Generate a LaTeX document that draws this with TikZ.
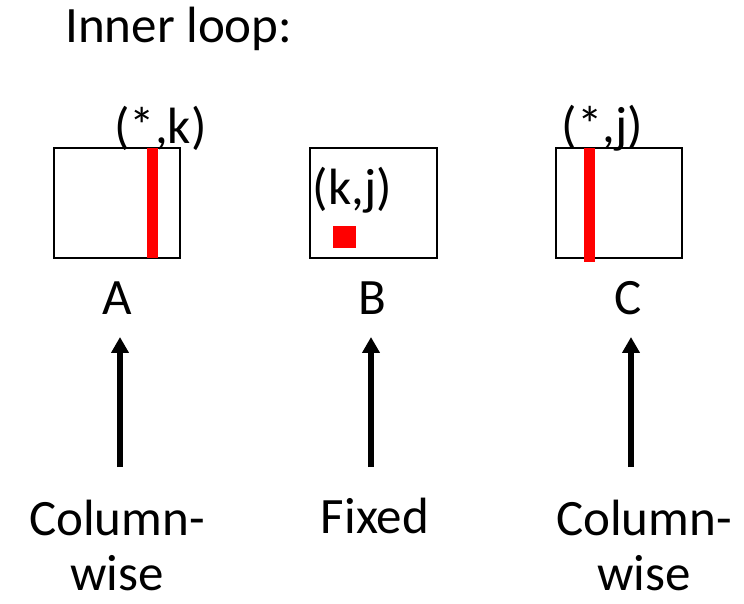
\documentclass[tikz,border=0pt]{standalone}
\usepackage{fontspec}
\setmainfont{Carlito}
\usetikzlibrary{arrows.meta}
\begin{document}
\begin{tikzpicture}[x=1pt,y=1pt,
  txt/.style={inner sep=0pt,anchor=base,font=\fontsize{51}{55}\selectfont},
  mat/.style={draw=black,line width=2pt,minimum height=110pt,inner sep=0pt},
  redbar/.style={fill=red,draw=none},
  uparrow/.style={line width=5.5pt,-{Triangle[width=17pt,length=16pt]}}]
\useasboundingbox (0,0) rectangle (744,603);
% title
\node[txt,anchor=base west] (title) at (65,560) {Inner loop:};
% matrices
\node[mat,minimum width=126pt] (A) at (117,400) {};
\node[mat,minimum width=127pt] (B) at (373.5,400) {};
\node[mat,minimum width=126pt] (C) at (619,400) {};
% red parts
\fill[redbar] (147,345) rectangle (158,455);
\fill[redbar] (333,355) rectangle (356,377);
\fill[redbar] (584,341) rectangle (595,455);
% labels
\node[txt] (ka) at (160.5,459) {(*,k)};
\node[txt] (kb) at (352.5,398) {(k,j)};
\node[txt] (kc) at (602.5,460) {(*,j)};
\node[txt] (la) at (117.5,288) {A};
\node[txt] (lb) at (372.5,288) {B};
\node[txt] (lc) at (628,288) {C};
% bottom texts
\node[txt,align=center] (ba) at (117,13) {Column-\\wise};
\node[txt] (bb) at (375,70) {Fixed};
\node[txt,align=center] (bc) at (644,13) {Column-\\wise};
% arrows
\coordinate (sa) at (120,136);
\coordinate (ta) at (120,266);
\coordinate (sb) at (371,136);
\coordinate (tb) at (371,266);
\coordinate (sc) at (631,136);
\coordinate (tc) at (631,266);
\draw[uparrow] (sa) -- (ta);
\draw[uparrow] (sb) -- (tb);
\draw[uparrow] (sc) -- (tc);
\end{tikzpicture}
\end{document}
